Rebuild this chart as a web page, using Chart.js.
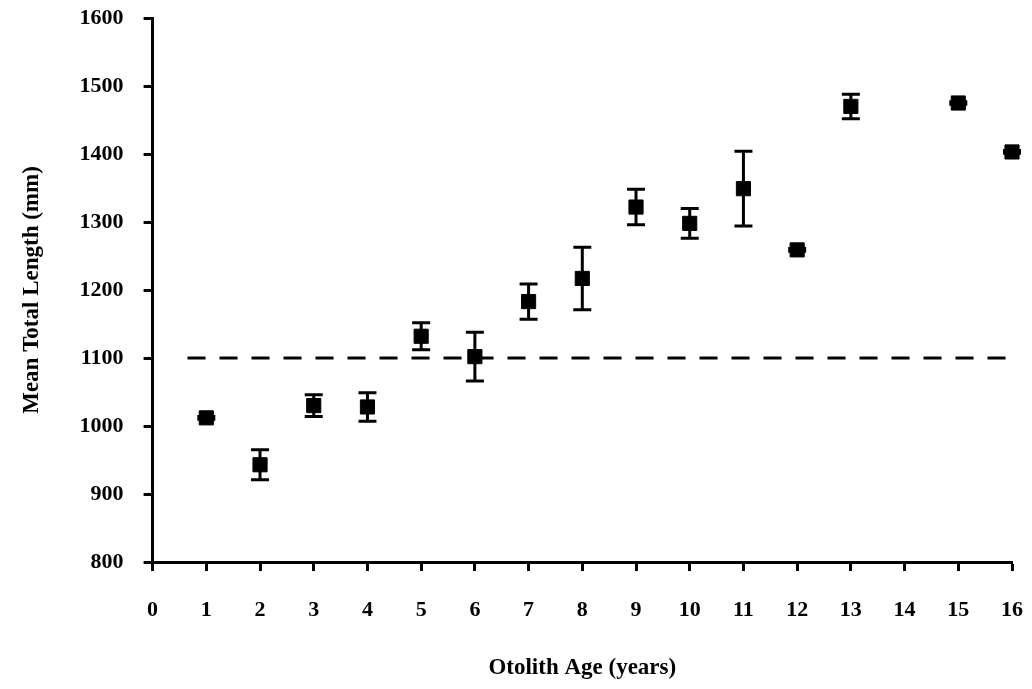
<!DOCTYPE html>
<html>
<head>
<meta charset="utf-8">
<script src="https://cdn.jsdelivr.net/npm/chart.js@4/dist/chart.umd.min.js"></script>
<style>
  html, body { margin: 0; padding: 0; background: #fff; }
  #wrap { width: 1032px; height: 689px; }
</style>
</head>
<body>
<div id="wrap"><canvas id="ageChart"></canvas></div>
<script>
// otolith age vs mean total length
const ages = [1, 2, 3, 4, 5, 6, 7, 8, 9, 10, 11, 12, 13, 15, 16];
const meanLength = [1012, 943, 1030, 1028, 1132, 1102, 1183, 1217, 1322, 1298, 1349, 1259, 1470, 1475, 1403];
const stdErr = [2, 22, 16, 21, 20, 36, 26, 46, 26, 22, 55, 2, 18, 2, 2];
const refAges = [0.65, 16];
const refLength = [1100, 1100];

const xTicks = [0, 16, 1];
const yTicks = [800, 1600, 100];

const serif = "'Liberation Serif', 'DejaVu Serif', serif";

// whiskers drawn under the square markers
const errorBars = {
    id: 'errorBars',
    beforeDatasetsDraw(chart) {
        const { ctx, scales: { x, y } } = chart;
        ctx.save();
        ctx.strokeStyle = '#000';
        ctx.lineWidth = 3;
        ages.forEach((a, i) => {
            const px = x.getPixelForValue(a);
            const top = y.getPixelForValue(meanLength[i] + stdErr[i]);
            const bot = y.getPixelForValue(meanLength[i] - stdErr[i]);
            ctx.beginPath();
            ctx.moveTo(px, top); ctx.lineTo(px, bot);
            ctx.moveTo(px - 9, top); ctx.lineTo(px + 9, top);
            ctx.moveTo(px - 9, bot); ctx.lineTo(px + 9, bot);
            ctx.stroke();
        });
        ctx.restore();
    }
};

new Chart(document.getElementById('ageChart'), {
    type: 'scatter',
    data: {
        datasets: [
            {
                label: 'Mean length',
                data: ages.map((a, i) => ({ x: a, y: meanLength[i] })),
                pointStyle: 'rect',
                pointRadius: 10,
                backgroundColor: '#000',
                borderColor: '#000',
                borderWidth: 1,
                clip: false
            },
            {
                label: 'Reference',
                type: 'line',
                data: refAges.map((a, i) => ({ x: a, y: refLength[i] })),
                borderColor: '#000',
                borderWidth: 3,
                borderDash: [18, 14],
                pointRadius: 0,
                fill: false
            }
        ]
    },
    options: {
        responsive: true,
        maintainAspectRatio: false,
        animation: false,
        layout: { padding: { left: 14, right: 20, top: 18, bottom: 3 } },
        plugins: { legend: { display: false }, tooltip: { enabled: false } },
        scales: {
            x: {
                type: 'linear',
                min: xTicks[0], max: xTicks[1],
                afterFit: (s) => { s.paddingRight = 0; s.paddingLeft = 0; },
                border: { color: '#000', width: 3 },
                grid: { drawOnChartArea: false, color: '#000', tickLength: 9, tickWidth: 3 },
                ticks: {
                    stepSize: xTicks[2], color: '#000', padding: 26,
                    font: { family: serif, size: 22, weight: 'bold' }
                },
                title: {
                    display: true, text: 'Otolith Age (years)', color: '#000',
                    padding: { top: 5 },
                    font: { family: serif, size: 23, weight: 'bold' }
                }
            },
            y: {
                min: yTicks[0], max: yTicks[1],
                afterFit: (s) => { s.paddingTop = 0; s.paddingBottom = 0; },
                border: { color: '#000', width: 3 },
                grid: { drawOnChartArea: false, color: '#000', tickLength: 9, tickWidth: 3 },
                ticks: {
                    stepSize: yTicks[2], color: '#000', padding: 20,
                    callback: (v) => String(v),
                    font: { family: serif, size: 22, weight: 'bold' }
                },
                title: {
                    display: true, text: 'Mean Total Length (mm)', color: '#000',
                    padding: { bottom: 14 },
                    font: { family: serif, size: 23, weight: 'bold' }
                }
            }
        }
    },
    plugins: [errorBars]
});
</script>
</body>
</html>
